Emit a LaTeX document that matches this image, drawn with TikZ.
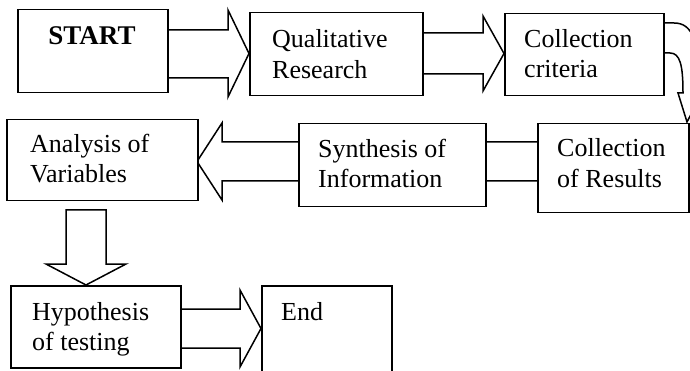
\documentclass[tikz,border=0pt]{standalone}
\usepackage{fontspec}
\setmainfont{Liberation Serif}
\usetikzlibrary{calc}
\begin{document}
\begin{tikzpicture}[x=1pt,y=-1pt,
  box/.style={draw, line width=1.5pt, fill=white, rectangle, inner sep=0pt, anchor=north west},
  lbl/.style={anchor=base west, inner sep=0pt, font=\fontsize{26}{30}\selectfont},
  barrow/.style={draw, line width=1.5pt, fill=white, line join=miter}]
\useasboundingbox (0,0) rectangle (690,371);
\clip (0,0) rectangle (690,371);
% boxes (positions)
\coordinate (pStart) at (17,9);
\coordinate (pQual) at (249,12);
\coordinate (pCrit) at (504,13);
\coordinate (pRes) at (537,123);
\coordinate (pSyn) at (298,123);
\coordinate (pAna) at (6,119);
\coordinate (pHyp) at (10,285);
\coordinate (pEnd) at (261,285);
% block arrows (drawn first, tails hidden under boxes)
\draw[barrow] (150,30) -- (228,30) -- (228,10) -- (249,53.5) -- (228,97) -- (228,78) -- (150,78) -- cycle;
\draw[barrow] (410,33) -- (483,33) -- (483,16) -- (504,53.5) -- (483,91) -- (483,74) -- (410,74) -- cycle;
\draw[barrow] (650,23) -- (674,23) .. controls (692,23) and (700,40) .. (700,93) -- (702,93) -- (687,122) -- (678,93) -- (683,93) .. controls (683,65) and (680,53) .. (670,53) -- (650,53) -- cycle;
\draw[barrow] (560,142) -- (222,142) -- (222,123) -- (197,161.5) -- (222,200) -- (222,181) -- (560,181) -- cycle;
\draw[barrow] (66,210) -- (106,210) -- (106,264) -- (126,264) -- (86,285) -- (46,264) -- (66,264) -- cycle;
\draw[barrow] (170,309) -- (240,309) -- (240,290) -- (261,328.5) -- (240,367) -- (240,348) -- (170,348) -- cycle;
% boxes
\node[box, minimum width=150pt, minimum height=83pt] (start) at (pStart) {};
\node[box, minimum width=173pt, minimum height=83pt] (qual) at (pQual) {};
\node[box, minimum width=159pt, minimum height=82pt] (crit) at (pCrit) {};
\node[box, minimum width=151pt, minimum height=89pt] (res) at (pRes) {};
\node[box, minimum width=187pt, minimum height=83pt] (syn) at (pSyn) {};
\node[box, minimum width=191pt, minimum height=81pt] (ana) at (pAna) {};
\node[box, minimum width=170pt, minimum height=82pt] (hyp) at (pHyp) {};
\node[box, minimum width=130pt, minimum height=110pt] (endb) at (pEnd) {};
% texts
\node[lbl, anchor=base, font=\fontsize{27}{30}\selectfont\bfseries] (startT) at (92,45) {START};
\node[lbl] (qualA) at (272,48) {Qualitative};
\node[lbl] (qualB) at (272,79) {Research};
\node[lbl] (critA) at (524,48) {Collection};
\node[lbl] (critB) at (524,78) {criteria};
\node[lbl] (anaA) at (30,153) {Analysis of};
\node[lbl] (anaB) at (30,183) {Variables};
\node[lbl] (synA) at (318,158) {Synthesis of};
\node[lbl] (synB) at (318,188) {Information};
\node[lbl] (resA) at (557,157) {Collection};
\node[lbl] (resB) at (557,188) {of Results};
\node[lbl] (hypA) at (32,320) {Hypothesis};
\node[lbl] (hypB) at (32,350) {of testing};
\node[lbl] (endT) at (281,320) {End};
\end{tikzpicture}
\end{document}
